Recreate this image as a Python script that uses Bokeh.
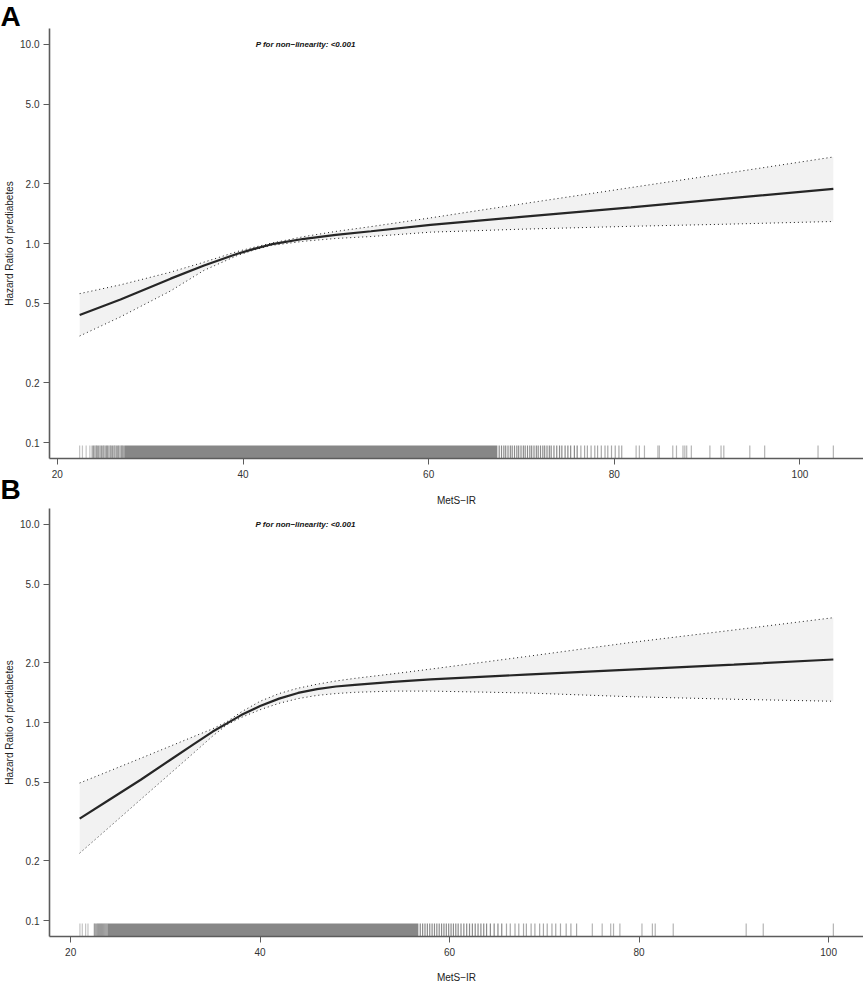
from bokeh.plotting import figure
from bokeh.layouts import column
from bokeh.models import FixedTicker, PrintfTickFormatter, Range1d, Label
from bokeh.embed import file_html
from bokeh.resources import INLINE

# ---------------- data ----------------
# Panel A : MetS-IR vs hazard ratio (spline with 95% CI)
A_x  = [22.4, 26.8, 32.2, 35.8, 39.4, 41.2, 43.0, 46.6, 50.0, 53.8, 60.2, 70.0, 81.8, 92.0, 103.6]
A_hr = [0.437, 0.523, 0.666, 0.776, 0.888, 0.940, 0.989, 1.056, 1.105, 1.152, 1.24, 1.36, 1.52, 1.68, 1.88]
A_lo = [0.343, 0.428, 0.578, 0.733, 0.871, 0.928, 0.977, 1.027, 1.060, 1.084, 1.14, 1.18, 1.22, 1.25, 1.29]
A_hi = [0.560, 0.620, 0.718, 0.806, 0.912, 0.958, 1.003, 1.084, 1.150, 1.216, 1.345, 1.58, 1.91, 2.25, 2.72]

# Panel B
B_x  = [20.95, 24.0, 27.4, 30.5, 33.0, 35.0, 36.5, 38.0, 40.0, 42.0, 44.0, 46.0, 48.0, 50.0, 54.0, 58.0,
        68.0, 79.0, 90.0, 100.5]
B_hr = [0.327, 0.405, 0.514, 0.647, 0.778, 0.900, 0.990, 1.090, 1.210, 1.320, 1.410, 1.474, 1.519, 1.550,
        1.603, 1.649, 1.745, 1.850, 1.960, 2.080]
B_lo = [0.219, 0.294, 0.409, 0.552, 0.703, 0.855, 0.975, 1.060, 1.160, 1.250, 1.320, 1.370, 1.400, 1.420,
        1.440, 1.440, 1.410, 1.350, 1.310, 1.280]
B_hi = [0.495, 0.567, 0.660, 0.759, 0.850, 0.930, 1.010, 1.130, 1.280, 1.400, 1.490, 1.560, 1.620, 1.670,
        1.760, 1.860, 2.150, 2.530, 2.930, 3.380]

# rug (observed MetS-IR values)
A_rug_edge   = [22.4, 22.7, 23.1, 23.5]
A_rug_left   = [23.75, 23.9, 24.05, 24.2, 24.3, 24.45, 24.6, 24.75, 24.9, 25.0, 25.15, 25.3, 25.4,
                25.55, 25.7, 25.8, 25.95, 26.1, 26.2, 26.35, 26.5, 26.6, 26.75, 26.9, 27.0, 27.1]
A_rug_solid  = [27.2, 67.4]
A_rug_mid    = [67.6, 67.85, 68.1, 68.3, 68.55, 68.8, 69.0, 69.25, 69.5, 69.7, 69.95, 70.2, 70.4, 70.65,
                70.9, 71.1, 71.35, 71.6, 71.8, 72.05, 72.3, 72.5, 72.75, 73.0, 73.2, 73.5, 73.8, 74.1,
                74.35, 74.7, 75.0, 75.3, 75.7, 76.0]
A_rug_light  = [76.4, 76.8, 77.1, 77.5, 77.9, 78.2, 78.6, 79.0, 79.3, 79.7, 80.1, 80.5, 80.8]
A_rug_sparse = [82.35, 82.7, 83.25, 84.7, 84.85, 86.3, 86.7, 87.4, 87.6, 87.8, 88.3, 90.3, 91.5, 91.8,
                94.6, 96.2, 101.95, 103.6]

B_rug_edge   = [20.98, 21.23, 21.58, 21.83]
B_rug_left   = [22.5, 22.6, 22.75, 22.85, 22.95, 23.05, 23.15, 23.25, 23.35, 23.45, 23.55, 23.65, 23.75, 23.85]
B_rug_solid  = [23.9, 56.7]
B_rug_mid    = [56.9, 57.15, 57.4, 57.65, 57.9, 58.15, 58.4, 58.65, 58.9, 59.15, 59.4, 59.65, 59.9, 60.15,
                60.4, 60.65, 60.9, 61.2, 61.5, 61.8, 62.1, 62.4, 62.7, 63.0, 63.3, 63.6, 63.9, 64.3, 64.7,
                65.1, 65.5]
B_rug_light  = [66.0, 66.4, 66.9, 67.3, 67.8, 68.1, 68.6, 69.0, 69.5, 69.9, 70.3, 70.8, 71.2, 71.7, 72.3,
                72.8, 73.4]
B_rug_sparse = [75.06, 76.1, 77.0, 77.3, 77.97, 80.3, 81.4, 81.7, 83.6, 91.3, 93.1, 100.5]

x_ticks = [20, 40, 60, 80, 100]
y_ticks = [0.1, 0.2, 0.5, 1.0, 2.0, 5.0, 10.0]
y_lim = (0.1, 10.0)
p_text = "P for non\u2212linearity: <0.001"
x_title = "MetS\u2212IR"
y_title = "Hazard Ratio of prediabetes"
panel_letters = ["A", "B"]

FONT = "Liberation Sans"
AXIS_COL = "#5c5c5c"
FRAME_W = 814
FRAME_H = 431
LEFT = 49


def make_panel(xs, hr, lo, hi, rug, height, top_border, bottom_border, p_x, title_standoff,
               letter, letter_standoff):
    span = xs[-1] - xs[0]
    xr = Range1d(xs[0] - 0.04 * span, xs[-1] + 0.04 * span)
    lgspan = 2.0  # decades in y_lim
    ybot = y_lim[0] / 10 ** (0.04 * lgspan)
    ytop = y_lim[1] * 10 ** (0.04 * lgspan)
    yr = Range1d(ybot, ytop)
    p = figure(width=LEFT + FRAME_W, height=height, x_range=xr, y_range=yr, y_axis_type="log",
               output_backend="svg", toolbar_location=None,
               min_border_left=LEFT, min_border_right=0, min_border_top=top_border,
               min_border_bottom=bottom_border)
    p.outline_line_color = None
    p.grid.visible = False
    p.background_fill_color = "white"
    p.border_fill_alpha = 0

    # panel letter as the figure title
    p.title.text = letter
    p.title.align = "left"
    p.title.offset = -LEFT
    p.title.standoff = letter_standoff
    p.title.text_font = FONT
    p.title.text_font_size = "28px"
    p.title.text_font_style = "bold"
    p.title.text_color = "#000000"

    # confidence band
    p.varea(x=xs, y1=lo, y2=hi, fill_color="#f2f2f2")
    p.line(xs, lo, line_color="#1a1a1a", line_width=1, line_dash="1 3")
    p.line(xs, hi, line_color="#1a1a1a", line_width=1, line_dash="1 3")
    p.line(xs, hr, line_color="#262626", line_width=2.2)

    # rug
    rug_top = ybot * 10 ** (13.0 / 200.0)
    edge, left, solid, mid, light, sparse = rug
    for vals, col in ((edge, "#c4c4c4"), (left, "#9a9a9a"), (mid, "#8a8a8a"),
                      (light, "#a8a8a8"), (sparse, "#b4b4b4")):
        p.segment(x0=vals, y0=[ybot] * len(vals), x1=vals, y1=[rug_top] * len(vals),
                  line_color=col, line_width=1.2)
    p.quad(left=[solid[0]], right=[solid[1]], bottom=[ybot], top=[rug_top],
           fill_color="#878787", line_color=None)

    p.add_layout(Label(x=p_x, y=10.0, text=p_text, text_font=FONT, text_font_size="8px",
                       text_font_style="bold italic", text_align="center",
                       text_baseline="middle", text_color="#111111"))

    for ax in (p.xaxis[0], p.yaxis[0]):
        ax.axis_line_color = AXIS_COL
        ax.axis_line_width = 1.6
        ax.major_tick_line_color = AXIS_COL
        ax.major_tick_line_width = 1
        ax.major_tick_in = 0
        ax.major_tick_out = 6
        ax.minor_tick_line_color = None
        ax.major_label_text_font = FONT
        ax.major_label_text_font_size = "10px"
        ax.major_label_text_color = "#333333"
        ax.axis_label_text_font = FONT
        ax.axis_label_text_font_size = "10px"
        ax.axis_label_text_font_style = "normal"
        ax.axis_label_text_color = "#222222"
    p.xaxis.ticker = FixedTicker(ticks=x_ticks)
    p.yaxis.ticker = FixedTicker(ticks=y_ticks)
    p.yaxis.formatter = PrintfTickFormatter(format="%.1f")
    p.xaxis.axis_label = x_title
    p.yaxis.axis_label = y_title
    p.xaxis.major_label_standoff = 5
    p.xaxis.axis_label_standoff = title_standoff
    p.yaxis.major_label_standoff = 4
    p.yaxis.axis_label_standoff = 2
    return p


pA = make_panel(A_x, A_hr, A_lo, A_hi,
                (A_rug_edge, A_rug_left, A_rug_solid, A_rug_mid, A_rug_light, A_rug_sparse),
                height=508, top_border=28, bottom_border=49, p_x=46.75, title_standoff=14,
                letter=panel_letters[0], letter_standoff=-6)

# panel B's canvas is pulled up over the bottom of panel A so that its letter sits beside A's axis title
B_OVERLAP = 42
pB = make_panel(B_x, B_hr, B_lo, B_hi,
                (B_rug_edge, B_rug_left, B_rug_solid, B_rug_mid, B_rug_light, B_rug_sparse),
                height=477 + B_OVERLAP, top_border=B_OVERLAP, bottom_border=46, p_x=44.8,
                title_standoff=13, letter=panel_letters[1], letter_standoff=8)
pB.margin = (-B_OVERLAP, 0, 0, 0)

layout = column(pA, pB, spacing=0)
open("out.html", "w").write(file_html(layout, INLINE))
